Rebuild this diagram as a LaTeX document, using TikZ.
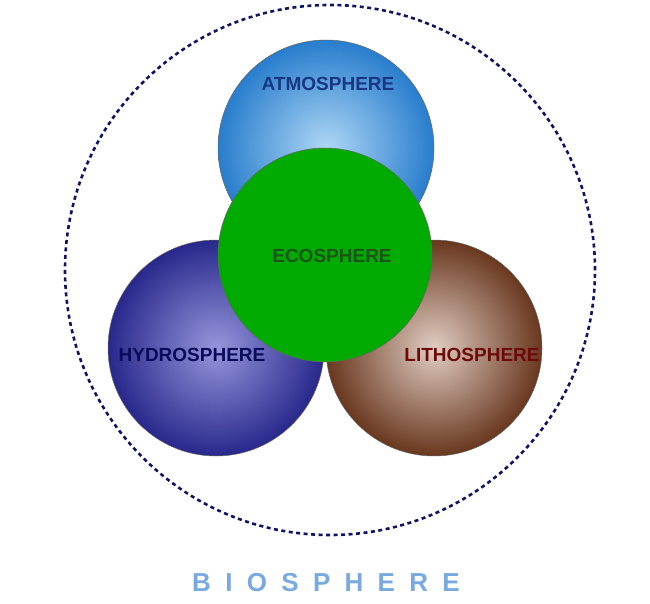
\documentclass[tikz,border=0pt]{standalone}
\usepackage{fontspec}
\setmainfont{Liberation Sans}
\begin{document}
\begin{tikzpicture}[x=1pt,y=-1pt,
  sph/.style={draw=black!60, line width=0.5pt},
  lab/.style={font=\bfseries\fontsize{19}{22}\selectfont}]
\useasboundingbox (0,0) rectangle (650,604);
\node[draw={rgb,255:red,15;green,20;blue,100}, line width=2.6pt, dash pattern=on 4pt off 3.5pt, circle, minimum size=530pt] (bio) at (330,270) {};
\shade[sph, inner color={rgb,255:red,175;green,215;blue,245}, outer color={rgb,255:red,40;green,125;blue,205}] (326,148) circle (108);
\shade[sph, inner color={rgb,255:red,150;green,150;blue,220}, outer color={rgb,255:red,40;green,40;blue,140}] (216,348) circle (108);
\shade[sph, inner color={rgb,255:red,225;green,205;blue,195}, outer color={rgb,255:red,105;green,55;blue,30}] (434,348) circle (108);
\fill[sph, fill={rgb,255:red,0;green,170;blue,0}] (325,255) circle (107);
\node[lab, text={rgb,255:red,25;green,55;blue,130}] (atm) at (328,84) {ATMOSPHERE};
\node[lab, text={rgb,255:red,25;green,85;blue,25}] (eco) at (332,256) {ECOSPHERE};
\node[lab, text={rgb,255:red,10;green,10;blue,90}] (hyd) at (192,355) {HYDROSPHERE};
\node[lab, text={rgb,255:red,110;green,10;blue,10}] (lit) at (472,355) {LITHOSPHERE};
\node[font=\bfseries\fontsize{26}{30}\selectfont, text={rgb,255:red,120;green,170;blue,225}] (biot) at (326,583) {B\hspace{0.55em}I\hspace{0.55em}O\hspace{0.55em}S\hspace{0.55em}P\hspace{0.55em}H\hspace{0.55em}E\hspace{0.55em}R\hspace{0.55em}E};
\end{tikzpicture}
\end{document}
